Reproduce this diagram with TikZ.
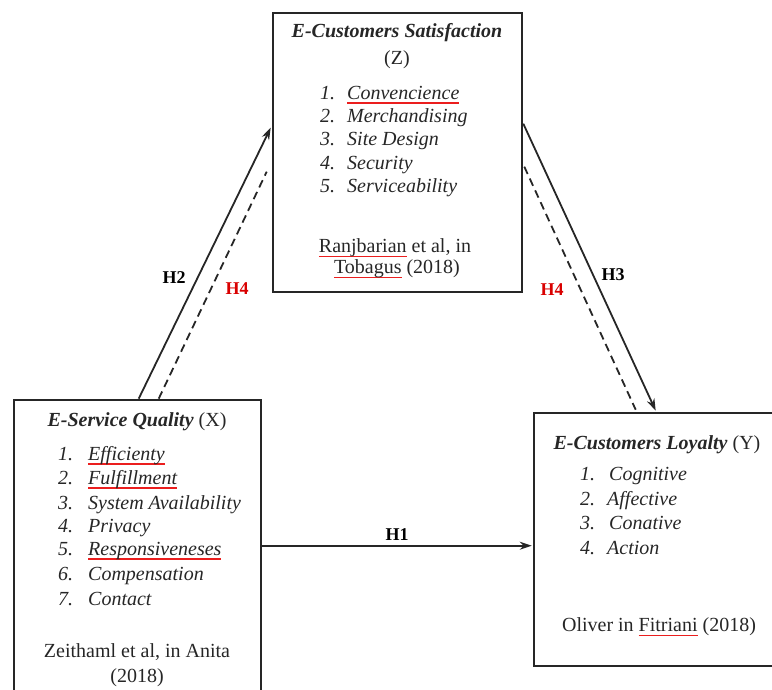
\documentclass[tikz,border=0pt]{standalone}
\usepackage{fontspec}
\setmainfont{Liberation Serif}
\usetikzlibrary{arrows.meta,calc}
\definecolor{squigred}{RGB}{235,30,30}
\newsavebox\sqbox
\newcommand\squig[1]{\sbox\sqbox{#1}\rlap{\color{squigred}\rule[-4.5pt]{\wd\sqbox}{1.6pt}}\usebox\sqbox}
\tikzset{
  box/.style={draw=black!85, line width=2.6pt, rectangle, inner sep=0pt},
  txt/.style={font=\fontsize{20}{24}\selectfont, inner sep=0pt, text=black!85},
  itm/.style={txt, anchor=mid west, font=\fontsize{20}{24}\selectfont\itshape},
  lbl/.style={font=\fontsize{18}{20}\selectfont\bfseries, inner sep=0pt},
  arr/.style={line width=1.8pt, draw=black!85, -{Stealth[length=12pt,width=8pt]}},
  dsh/.style={line width=1.8pt, draw=black!85, dash pattern=on 8pt off 5pt},
}
\begin{document}
\begin{tikzpicture}[x=1pt,y=-1pt]
\useasboundingbox (0,0) rectangle (772,690);

% boxes
\node[box, minimum width=247pt, minimum height=305pt] (X) at (137.5,552.5) {};
\node[box, minimum width=249pt, minimum height=279pt] (Z) at (397.5,152.5) {};
\node[box, minimum width=246pt, minimum height=253pt] (Y) at (657,539.5) {};

% Z box text
\node[txt] (zt) at (397,33) {\textbf{\textit{E-Customers Satisfaction}}};
\node[txt] (zz) at (397,60) {(Z)};
\node[itm] (zn1) at (320,97) {1.};
\node[itm] (zn2) at (320,120) {2.};
\node[itm] (zn3) at (320,143) {3.};
\node[itm] (zn4) at (320,167) {4.};
\node[itm] (zn5) at (320,190) {5.};
\node[itm] (zw1) at (347,97) {\squig{Convencience}};
\node[itm] (zw2) at (347,120) {Merchandising};
\node[itm] (zw3) at (347,143) {Site Design};
\node[itm] (zw4) at (347,167) {Security};
\node[itm] (zw5) at (347,190) {Serviceability};
\node[txt] (zs1) at (395,248) {\squig{Ranjbarian} et al, in};
\node[txt] (zs2) at (397,269) {\squig{Tobagus} (2018)};

% X box text
\node[txt] (xt) at (137,422) {\textbf{\textit{E-Service Quality}} (X)};
\node[itm] (xn1) at (58,458) {1.};
\node[itm] (xn2) at (58,482) {2.};
\node[itm] (xn3) at (58,507) {3.};
\node[itm] (xn4) at (58,530) {4.};
\node[itm] (xn5) at (58,553) {5.};
\node[itm] (xn6) at (58,578) {6.};
\node[itm] (xn7) at (58,603) {7.};
\node[itm] (xw1) at (88,458) {\squig{Efficienty}};
\node[itm] (xw2) at (88,482) {\squig{Fulfillment}};
\node[itm] (xw3) at (88,507) {System Availability};
\node[itm] (xw4) at (88,530) {Privacy};
\node[itm] (xw5) at (88,553) {\squig{Responsiveneses}};
\node[itm] (xw6) at (88,578) {Compensation};
\node[itm] (xw7) at (88,603) {Contact};
\node[txt] (xs1) at (137,652) {Zeithaml et al, in Anita};
\node[txt] (xs2) at (137,678) {(2018)};

% Y box text
\node[txt] (yt) at (657,445) {\textbf{\textit{E-Customers Loyalty}} (Y)};
\node[itm] (yn1) at (580,478) {1.};
\node[itm] (yn2) at (580,503) {2.};
\node[itm] (yn3) at (580,527) {3.};
\node[itm] (yn4) at (580,552) {4.};
\node[itm] (yw1) at (609,478) {Cognitive};
\node[itm] (yw2) at (607,503) {Affective};
\node[itm] (yw3) at (609,527) {Conative};
\node[itm] (yw4) at (607,552) {Action};
\node[txt] (ys) at (659,627) {Oliver in \squig{Fitriani} (2018)};

% connector end points on box borders
\coordinate (h2s) at ($(X.north west)+(126,0)$);
\coordinate (h2e) at ($(Z.north west)+(-1,116)$);
\coordinate (h4as) at ($(X.north west)+(146,0)$);
\coordinate (h4ae) at ($(Z.north west)+(-5,160)$);
\coordinate (h3s) at ($(Z.north east)+(0,112)$);
\coordinate (h3e) at ($(Y.north west)+(123,-1)$);
\coordinate (h4bs) at ($(Z.north east)+(1,155)$);
\coordinate (h4be) at ($(Y.north west)+(103,-2)$);
\coordinate (h1s) at ($(X.north east)+(0,147)$);
\coordinate (h1e) at ($(Y.north west)+(-1,134)$);

% connectors
\draw[arr] (h2s) -- (h2e);
\draw[dsh] (h4as) -- (h4ae);
\draw[arr] (h3s) -- (h3e);
\draw[dsh] (h4bs) -- (h4be);
\draw[arr] (h1s) -- (h1e);

% labels
\node[lbl] (l2) at (174,278) {H2};
\node[lbl, text=red!85!black] (l4a) at (237,289) {H4};
\node[lbl] (l3) at (613,275) {H3};
\node[lbl, text=red!85!black] (l4b) at (552,290) {H4};
\node[lbl] (l1) at (397,535) {H1};
\end{tikzpicture}
\end{document}
